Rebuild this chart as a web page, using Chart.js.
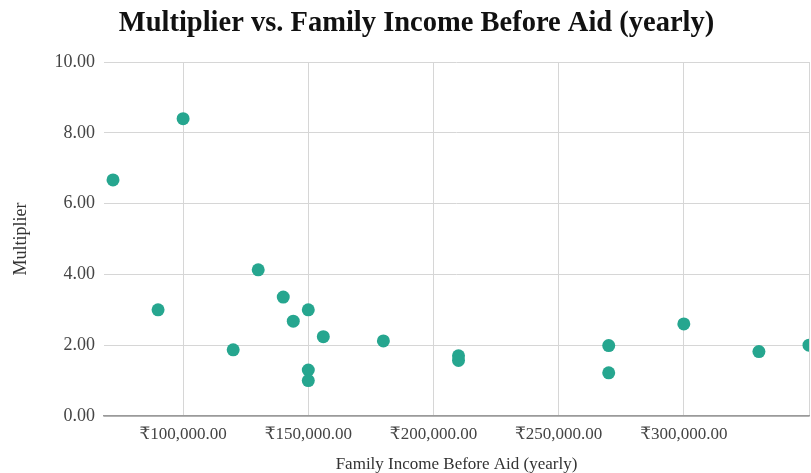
<!DOCTYPE html>
<html>
<head>
<meta charset="utf-8">
<title>Multiplier vs. Family Income Before Aid (yearly)</title>
<script src="https://cdn.jsdelivr.net/npm/chart.js@4/dist/chart.umd.min.js"></script>
<style>
  html, body { margin: 0; padding: 0; background: #ffffff; overflow: hidden; }
  #wrap { position: relative; width: 818px; height: 473px; }
</style>
</head>
<body>
<div id="wrap"><canvas id="chart"></canvas></div>
<script>
// Family income before aid (yearly, ₹) for each student
const incomes = [72000, 100000, 90000, 120000, 130000, 140000, 144000, 150000, 150000, 150000,
                 156000, 180000, 210000, 210000, 270000, 270000, 300000, 330000, 350000];
// Aid multiplier for each student, same order as incomes
const multipliers = [6.67, 8.4, 3.0, 1.87, 4.13, 3.36, 2.68, 3.0, 1.3, 1.0,
                     2.24, 2.12, 1.7, 1.57, 1.99, 1.22, 2.6, 1.82, 2.0];

// Axis ticks
const xTickValues = [100000, 150000, 200000, 250000, 300000, 350000];
const xTickLabelled = [100000, 150000, 200000, 250000, 300000];
const yTickValues = [0, 2, 4, 6, 8, 10];

const serif = "'Liberation Serif', 'Times New Roman', 'DejaVu Serif', serif";
const rupee = new Intl.NumberFormat('en-US', { minimumFractionDigits: 2, maximumFractionDigits: 2 });

const points = incomes.map((x, i) => ({ x: x, y: multipliers[i] }));

new Chart(document.getElementById('chart'), {
  type: 'scatter',
  data: {
    datasets: [{
      label: 'Multiplier',
      data: points,
      backgroundColor: '#26a68f',
      borderWidth: 0,
      pointRadius: 6.5,
      pointHoverRadius: 6.5
    }]
  },
  options: {
    responsive: true,
    maintainAspectRatio: false,
    animation: false,
    events: [],
    layout: { padding: { left: 24, right: 9, top: 0, bottom: 0 } },
    plugins: {
      legend: { display: false },
      tooltip: { enabled: false },
      title: {
        display: true,
        text: 'Multiplier vs. Family Income Before Aid (yearly)',
        color: '#111111',
        font: { family: serif, size: 28.5, weight: 'bold', lineHeight: 1.2 },
        padding: { top: 7, bottom: 20.8 }
      }
    },
    scales: {
      x: {
        type: 'linear',
        min: 68400,
        max: 350000,
        afterBuildTicks: (scale) => { scale.ticks = xTickValues.map(v => ({ value: v })); },
        afterFit: (scale) => { scale.height = 57; },
        grid: { color: '#d6d6d6', lineWidth: 1, drawTicks: false },
        border: { display: true, color: '#9a9a9a', width: 1.5 },
        ticks: {
          padding: 8.5,
          color: '#444444',
          maxRotation: 0,
          autoSkip: false,
          font: { family: serif, size: 17 },
          callback: (v) => xTickLabelled.includes(v) ? '₹' + rupee.format(v) : ''
        },
        title: {
          display: true,
          text: 'Family Income Before Aid (yearly)',
          color: '#333333',
          font: { family: serif, size: 17, lineHeight: 1.2 },
          padding: { top: 0, bottom: -2 }
        }
      },
      y: {
        type: 'linear',
        min: 0,
        max: 10,
        afterBuildTicks: (scale) => { scale.ticks = yTickValues.map(v => ({ value: v })); },
        afterFit: (scale) => { scale.width = 80; },
        grid: {
          drawTicks: false,
          color: (ctx) => (ctx.tick && ctx.tick.value === 0) ? '#9a9a9a' : '#d6d6d6',
          lineWidth: (ctx) => (ctx.tick && ctx.tick.value === 0) ? 1.5 : 1
        },
        border: { display: false },
        ticks: {
          padding: 9,
          color: '#444444',
          font: { family: serif, size: 18 },
          callback: (v) => v.toFixed(2)
        },
        title: {
          display: true,
          text: 'Multiplier',
          color: '#333333',
          font: { family: serif, size: 18, lineHeight: 1.2 },
          padding: { top: -13.8, bottom: 0 }
        }
      }
    }
  }
});
</script>
</body>
</html>
